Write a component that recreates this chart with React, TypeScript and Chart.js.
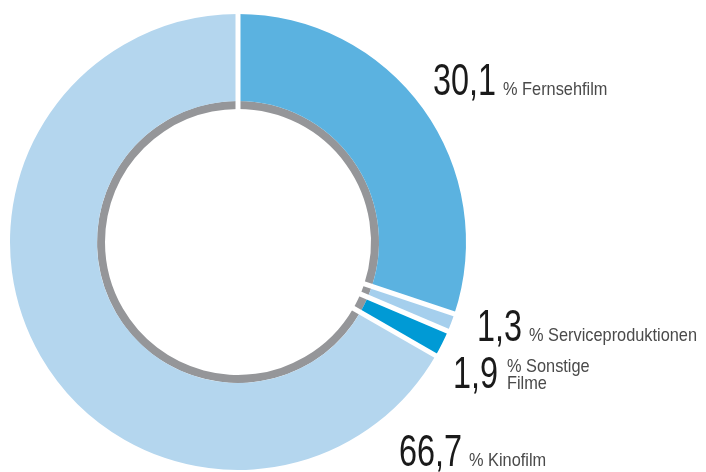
import React, { useEffect, useRef } from "react";
import { Chart, registerables } from "chart.js";

Chart.register(...registerables);

// ---- data ----
const categories = ["Fernsehfilm", "Serviceproduktionen", "Sonstige Filme", "Kinofilm"];
const shares = [30.1, 1.3, 1.9, 66.7];
const valueLabels = ["30,1", "1,3", "1,9", "66,7"];
const nameLines = [["% Fernsehfilm"], ["% Serviceproduktionen"], ["% Sonstige", "Filme"], ["% Kinofilm"]];
const sliceColors = ["#5bb2e0", "#a5cfed", "#009ad5", "#b4d6ee"];
const ringColor = "#959699";

// label placement (layout only)
const labelLayout = [
  { x: 433, y: 95, sx: 503, sy: 95 },
  { x: 477, y: 341, sx: 529, sy: 341 },
  { x: 453, y: 388, sx: 507, sy: 372 },
  { x: 399, y: 466, sx: 469, sy: 466 },
];

function drawScaled(ctx: CanvasRenderingContext2D, text: string, x: number, y: number, font: string, scaleX: number, color: string) {
  ctx.save();
  ctx.font = font;
  ctx.fillStyle = color;
  ctx.textBaseline = "alphabetic";
  ctx.textAlign = "left";
  ctx.translate(x, y);
  ctx.scale(scaleX, 1);
  ctx.fillText(text, 0, 0);
  ctx.restore();
}

const separatorPlugin = {
  id: "separators",
  afterDatasetsDraw(chart: any) {
    const ctx: CanvasRenderingContext2D = chart.ctx;
    const outer = chart.getDatasetMeta(0);
    const inner = chart.getDatasetMeta(1);
    if (!outer || !outer.data.length) return;
    const rIn = (inner && inner.data.length ? inner.data[0].innerRadius : outer.data[0].innerRadius) - 3;
    const rOut = outer.data[0].outerRadius + 3;
    ctx.save();
    ctx.strokeStyle = "#ffffff";
    ctx.lineWidth = 5;
    ctx.lineCap = "butt";
    outer.data.forEach((arc: any) => {
      const a = arc.startAngle;
      ctx.beginPath();
      ctx.moveTo(arc.x + Math.cos(a) * rIn, arc.y + Math.sin(a) * rIn);
      ctx.lineTo(arc.x + Math.cos(a) * rOut, arc.y + Math.sin(a) * rOut);
      ctx.stroke();
    });
    ctx.restore();
  },
};

const labelPlugin = {
  id: "sliceLabels",
  afterDraw(chart: any) {
    const ctx: CanvasRenderingContext2D = chart.ctx;
    const bigFont = "45px 'Liberation Sans', Arial, sans-serif";
    const smallFont = "19px 'Liberation Sans', Arial, sans-serif";
    valueLabels.forEach((v, i) => {
      const p = labelLayout[i];
      drawScaled(ctx, v, p.x, p.y, bigFont, 0.72, "#1a1a1a");
      nameLines[i].forEach((line, j) => {
        drawScaled(ctx, line, p.sx, p.sy + j * 17, smallFont, 0.86, "#4a4a4a");
      });
    });
  },
};

export default function App() {
  const ref = useRef<HTMLCanvasElement | null>(null);

  useEffect(() => {
    if (!ref.current) return;
    const chart = new Chart(ref.current, {
      type: "doughnut",
      data: {
        labels: categories,
        datasets: [
          {
            data: shares,
            backgroundColor: sliceColors,
            borderWidth: 0,
            weight: 87,
            hoverOffset: 0,
          },
          {
            data: shares,
            backgroundColor: shares.map(() => ringColor),
            borderWidth: 0,
            weight: 8,
            hoverOffset: 0,
          },
        ],
      },
      options: {
        responsive: false,
        animation: false,
        cutout: "58.333%",
        rotation: 0,
        layout: { padding: { left: 10, top: 14, right: 240, bottom: 2 } },
        plugins: {
          legend: { display: false },
          tooltip: { enabled: false },
        },
        events: [],
      },
      plugins: [separatorPlugin, labelPlugin],
    } as any);
    return () => chart.destroy();
  }, []);

  return (
    <div style={{ position: "fixed", left: 0, top: 0, width: 706, height: 472, background: "#ffffff" }}>
      <canvas ref={ref} width={706} height={472} style={{ display: "block" }} />
    </div>
  );
}
